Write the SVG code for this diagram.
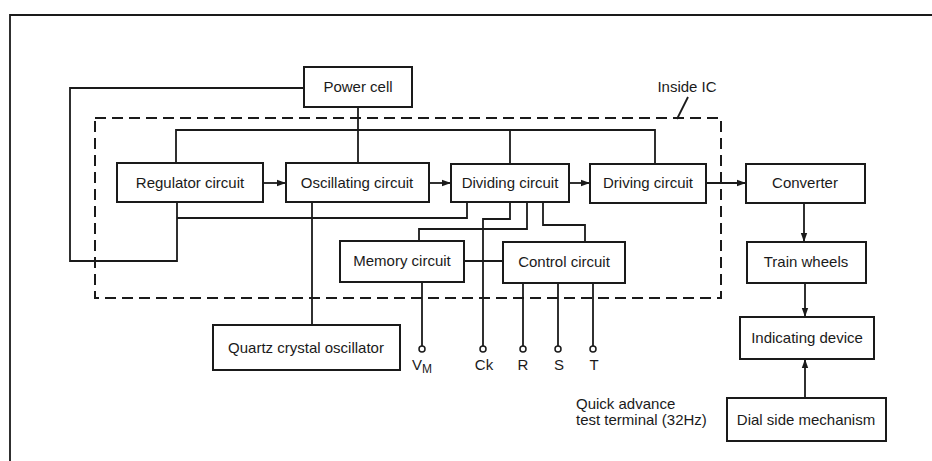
<svg xmlns="http://www.w3.org/2000/svg" width="932" height="461" viewBox="0 0 932 461">
<style>
.box{fill:#fff;stroke:#1a1a1a;stroke-width:2}
.t{font-family:"Liberation Sans",Arial,sans-serif;font-size:15px;fill:#1a1a1a;text-anchor:middle}
.ln{fill:none;stroke:#1a1a1a;stroke-width:1.8}
.ar{fill:none;stroke:#1a1a1a;stroke-width:1.8;marker-end:url(#ah)}
.term{fill:#fff;stroke:#1a1a1a;stroke-width:1.5}
</style>
<defs>
<marker id="ah" markerWidth="10" markerHeight="8" refX="9" refY="4" orient="auto" markerUnits="userSpaceOnUse">
<path d="M0,0.8 L9,4 L0,7.2 Z" fill="#1a1a1a"/>
</marker>
</defs>
<rect width="932" height="461" fill="#fff"/>
<g id="frame">
<path class="ln" d="M10,461 L10,15 L932,15"/>
</g>
<g id="inside-ic">
<rect x="95" y="118" width="626" height="180" fill="none" stroke="#1a1a1a" stroke-width="2" stroke-dasharray="11 6"/>
<text class="t" x="687" y="92">Inside IC</text>
<path class="ln" d="M688,97 L677,119"/>
</g>
<g id="connectors">
<path class="ln" d="M304,88 L70,88 L70,261 L177,261 L177,202"/>
<path class="ln" d="M177,218 L467,218 L467,202"/>
<path class="ln" d="M176,163 L176,130 L655,130 L655,164"/>
<path class="ln" d="M510,130 L510,164"/>
<path class="ln" d="M358,107 L358,163"/>
<path class="ar" d="M263,183 L286,183"/>
<path class="ar" d="M429,183 L451,183"/>
<path class="ar" d="M569,183 L590,183"/>
<path class="ar" d="M706,183 L746,183"/>
<path class="ar" d="M804,203 L804,242"/>
<path class="ar" d="M805,283 L805,317"/>
<path class="ar" d="M805,398 L805,359"/>
<path class="ln" d="M312,202 L312,325"/>
<path class="ln" d="M510,202 L510,219 L483,219 L483,346"/>
<path class="ln" d="M527,202 L527,229 L419,229 L419,241"/>
<path class="ln" d="M543,202 L543,225 L585,225 L585,242"/>
<path class="ln" d="M464,261 L503,261"/>
<path class="ln" d="M422,282 L422,346"/>
<path class="ln" d="M523,283 L523,346"/>
<path class="ln" d="M558,283 L558,346"/>
<path class="ln" d="M593,283 L593,346"/>
</g>
<g id="power-cell"><rect class="box" x="304" y="67" width="108" height="40"/><text class="t" x="358" y="92">Power cell</text></g>
<g id="regulator-circuit"><rect class="box" x="117" y="163" width="146" height="39"/><text class="t" x="190" y="188">Regulator circuit</text></g>
<g id="oscillating-circuit"><rect class="box" x="286" y="163" width="143" height="39"/><text class="t" x="357" y="188">Oscillating circuit</text></g>
<g id="dividing-circuit"><rect class="box" x="451" y="164" width="118" height="38"/><text class="t" x="510" y="188">Dividing circuit</text></g>
<g id="driving-circuit"><rect class="box" x="590" y="164" width="116" height="39"/><text class="t" x="648" y="188">Driving circuit</text></g>
<g id="converter"><rect class="box" x="746" y="164" width="119" height="39"/><text class="t" x="805" y="188">Converter</text></g>
<g id="memory-circuit"><rect class="box" x="340" y="241" width="124" height="41"/><text class="t" x="402" y="266">Memory circuit</text></g>
<g id="control-circuit"><rect class="box" x="503" y="242" width="122" height="41"/><text class="t" x="564" y="267">Control circuit</text></g>
<g id="train-wheels"><rect class="box" x="747" y="242" width="119" height="41"/><text class="t" x="806" y="267">Train wheels</text></g>
<g id="indicating-device"><rect class="box" x="740" y="317" width="134" height="42"/><text class="t" x="807" y="343">Indicating device</text></g>
<g id="dial-side-mechanism"><rect class="box" x="727" y="398" width="159" height="43"/><text class="t" x="806" y="425">Dial side mechanism</text></g>
<g id="quartz-crystal-oscillator"><rect class="box" x="213" y="325" width="187" height="45"/><text class="t" x="306" y="353">Quartz crystal oscillator</text></g>
<g id="terminals">
<circle class="term" cx="422" cy="349" r="3"/>
<circle class="term" cx="483" cy="349" r="3"/>
<circle class="term" cx="523" cy="349" r="3"/>
<circle class="term" cx="558" cy="349" r="3"/>
<circle class="term" cx="593" cy="349" r="3"/>
<text class="t" x="422" y="370">V<tspan font-size="12" dy="3">M</tspan></text>
<text class="t" x="484" y="370">Ck</text>
<text class="t" x="523" y="370">R</text>
<text class="t" x="559" y="370">S</text>
<text class="t" x="594" y="370">T</text>
</g>
<g id="quick-advance-label">
<text class="t" x="576" y="409" style="text-anchor:start">Quick advance</text>
<text class="t" x="576" y="425" style="text-anchor:start">test terminal (32Hz)</text>
</g>
</svg>
